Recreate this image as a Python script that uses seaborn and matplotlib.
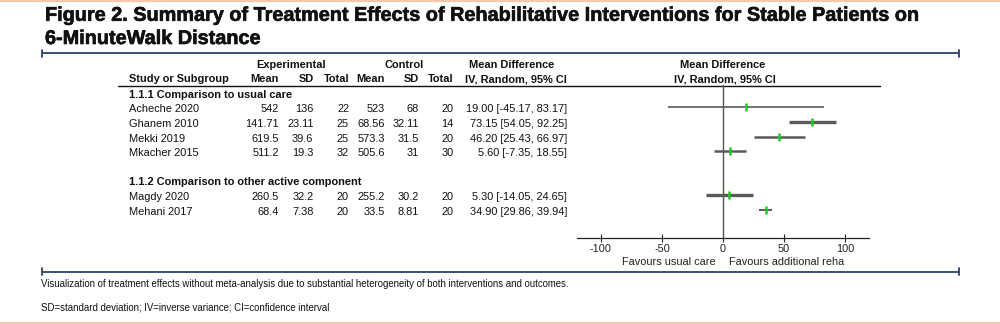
import matplotlib
matplotlib.use("Agg")
import matplotlib.pyplot as plt
import matplotlib.patheffects as pe
import seaborn as sns
import pandas as pd

# ---------------- data ----------------
subgroups = ["1.1.1 Comparison to usual care", "1.1.2 Comparison to other active component"]
studies = ["Acheche 2020", "Ghanem 2010", "Mekki 2019", "Mkacher 2015", "Magdy 2020", "Mehani 2017"]
study_group = [0, 0, 0, 0, 1, 1]
exp_mean = [542, 141.71, 619.5, 511.2, 260.5, 68.4]
exp_sd = [136, 23.11, 39.6, 19.3, 32.2, 7.38]
exp_total = [22, 25, 25, 32, 20, 20]
ctl_mean = [523, 68.56, 573.3, 505.6, 255.2, 33.5]
ctl_sd = [68, 32.11, 31.5, 31, 30.2, 8.81]
ctl_total = [20, 14, 20, 30, 20, 20]
md = [19.00, 73.15, 46.20, 5.60, 5.30, 34.90]
ci_lo = [-45.17, 54.05, 25.43, -7.35, -14.05, 29.86]
ci_hi = [83.17, 92.25, 66.97, 18.55, 24.65, 39.94]
xticks = [-100, -50, 0, 50, 100]
fav_left = "Favours usual care"
fav_right = "Favours additional reha"

title1 = "Figure 2. Summary of Treatment Effects of Rehabilitative Interventions for Stable Patients on"
title2 = "6-MinuteWalk Distance"
foot1 = ("Visualization of treatment effects without meta-analysis due to substantial heterogeneity "
         "of both interventions and outcomes.")
foot2 = "SD=standard deviation; IV=inverse variance; CI=confidence interval"

# ---------------- style ----------------
sns.set_theme(style="white")
plt.rcParams["font.family"] = ["Liberation Sans", "DejaVu Sans"]

W, H = 1000, 324
fig = plt.figure(figsize=(W / 100, H / 100), dpi=100)
bg = fig.add_axes([0, 0, 1, 1])
bg.set_xlim(0, W)
bg.set_ylim(H, 0)
bg.axis("off")

navy = "#2C4170"
peach = "#F7C7AB"
grey = "#5A5A5A"
green = "#1FCB1F"
fs = 7.9

row0 = 92.7
step = 14.6
study_rows = []
counter = {0: 1, 1: 7}
for g in study_group:
    study_rows.append(counter[g])
    counter[g] += 1
group_rows = [0, 6]


def ypx(r):
    return row0 + step * r


# border lines
bg.axhline(0.8, color=peach, lw=1.6)
bg.axhline(323.2, color=peach, lw=1.6)

# title (two lines, baselines placed separately)
tkw = dict(fontsize=14.3, fontweight="bold", va="baseline", ha="left", color="#111111",
           path_effects=[pe.withStroke(linewidth=0.45, foreground="#111111")])
bg.text(45, 20.8, title1, **tkw)
bg.text(45, 44.0, title2, **tkw)

# rules with end caps
for yy in (53, 271.5):
    bg.plot([42, 958.5], [yy, yy], color=navy, lw=1.3, solid_capstyle="butt")
    bg.plot([42, 42], [yy - 3.5, yy + 3.5], color=navy, lw=1.3)
    bg.plot([958.5, 958.5], [yy - 3.5, yy + 3.5], color=navy, lw=1.3)

# table headers
hb = dict(fontsize=fs, fontweight="bold", va="center", color="#111111")
bg.text(291, 64.5, "Experimental", ha="center", **hb)
bg.text(404, 64.5, "Control", ha="center", **hb)
bg.text(512, 64.5, "Mean Difference", ha="center", **hb)
bg.text(723, 64.5, "Mean Difference", ha="center", **hb)
bg.text(129, 79, "Study or Subgroup", ha="left", **hb)
col_right = [279, 313.5, 349, 385, 419, 453.5]
col_names = ["Mean", "SD", "Total", "Mean", "SD", "Total"]
for xr, nm in zip(col_right, col_names):
    bg.text(xr, 79, nm, ha="right", **hb)
bg.text(567, 79, "IV, Random, 95% CI", ha="right", **hb)
bg.text(725, 79, "IV, Random, 95% CI", ha="center", **hb)
bg.plot([118, 880], [86, 86], color="#111111", lw=1.0)

# subgroup headings
for r, name in zip(group_rows, subgroups):
    bg.text(129, ypx(r) + 1.8, name, ha="left", **hb)

# study rows
tr = dict(fontsize=fs, va="center", color="#111111")
for i, s in enumerate(studies):
    y = ypx(study_rows[i]) + 2.2
    bg.text(129, y, s, ha="left", **tr)
    vals = [f"{exp_mean[i]:g}", f"{exp_sd[i]:g}", f"{exp_total[i]}",
            f"{ctl_mean[i]:g}", f"{ctl_sd[i]:g}", f"{ctl_total[i]}"]
    for xr, v in zip(col_right, vals):
        bg.text(xr, y, v, ha="right", **tr)
    bg.text(567, y, f"{md[i]:.2f} [{ci_lo[i]:.2f}, {ci_hi[i]:.2f}]", ha="right", **tr)

# favours labels & footnotes
bg.text(715.5, 262, fav_left, ha="right", va="center", fontsize=fs, color="#222222")
bg.text(729, 262, fav_right, ha="left", va="center", fontsize=fs, color="#222222")
bg.text(41, 284, foot1, ha="left", va="center", fontsize=6.95, color="#111111")
bg.text(41, 307, foot2, ha="left", va="center", fontsize=6.95, color="#111111")

# ---------------- forest plot ----------------
x0_px, x1_px = 576.6, 869.4
top_px, bot_px = 85, 238
fax = fig.add_axes([x0_px / W, 1 - bot_px / H, (x1_px - x0_px) / W, (bot_px - top_px) / H])
fax.set_facecolor("none")
fax.set_xlim(-120, 120)
fax.set_ylim((bot_px - row0) / step, (top_px - row0) / step)

df = pd.DataFrame({"study": studies, "md": md, "lo": ci_lo, "hi": ci_hi, "row": study_rows})
line_w = [1.2, 2.4, 1.8, 1.8, 2.4, 1.4]
for (_, rr), lw in zip(df.iterrows(), line_w):
    fax.hlines(rr["row"], rr["lo"], rr["hi"], color=grey, lw=lw, zorder=2)
fax.axvline(0, color="#555555", lw=1.0, zorder=1)
sns.scatterplot(data=df, x="md", y="row", marker="|", s=36, color=green,
                linewidth=1.8, ax=fax, zorder=3, legend=False)

for sp in ("top", "right", "left"):
    fax.spines[sp].set_visible(False)
fax.spines["bottom"].set_color("#222222")
fax.spines["bottom"].set_linewidth(0.9)
fax.set_yticks([])
fax.set_xticks(xticks)
fax.set_xticklabels([str(t) for t in xticks])
fax.tick_params(axis="x", direction="inout", length=6, width=0.8, color="#222222",
                labelsize=fs, pad=1.5, bottom=True, labelcolor="#222222")
fax.set_xlabel("")
fax.set_ylabel("")

fig.savefig("out.png", dpi=100)
